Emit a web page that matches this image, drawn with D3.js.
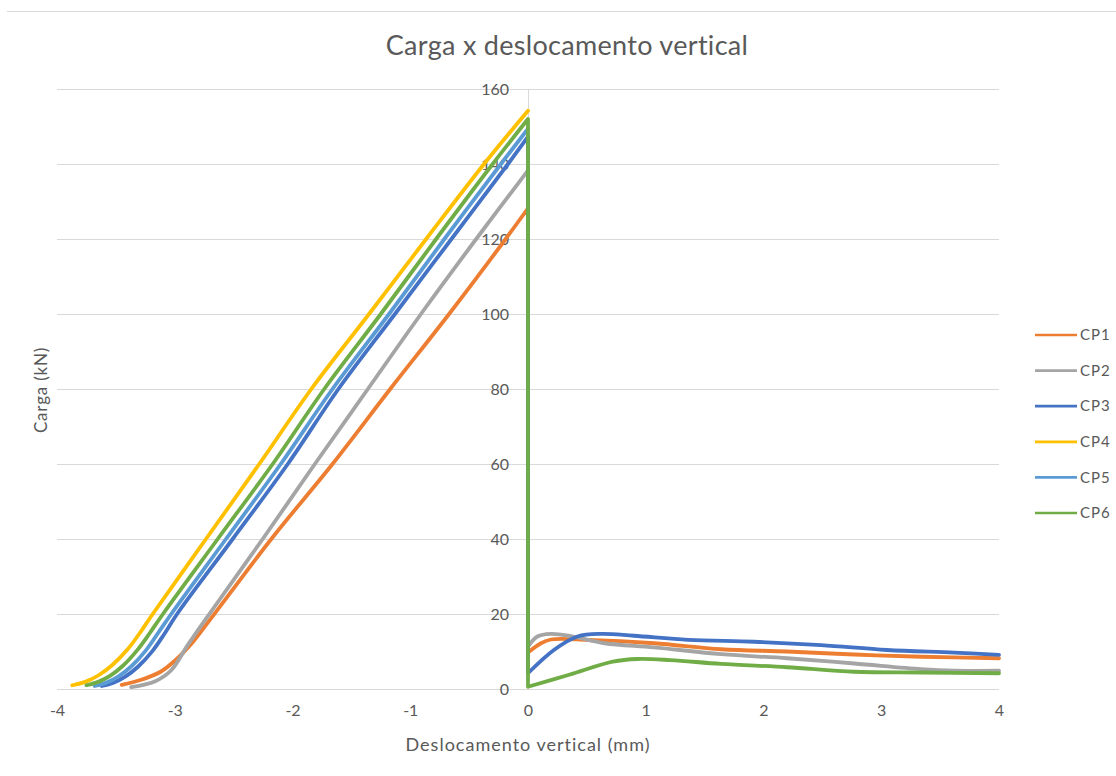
<!DOCTYPE html>
<html>
<head>
<meta charset="utf-8">
<script src="https://cdn.jsdelivr.net/npm/d3@7"></script>
<style>
  html, body { margin: 0; padding: 0; background: #ffffff; }
  svg { display: block; }
  text { font-family: Lato, "Open Sans", "Noto Sans", sans-serif; fill: #595959; }
</style>
</head>
<body>
<svg id="chart" width="1116" height="776"></svg>
<script>
// Series names and colours
const seriesNames = ["CP1", "CP2", "CP3", "CP4", "CP5", "CP6"];
const seriesColors = ["#ed7d31", "#a5a5a5", "#4472c4", "#ffc000", "#5b9bd5", "#70ad47"];

// Loading branch of each specimen: [displacement (mm), load (kN)], ending at the peak
const loadCP1 = [[-3.45, 1.1], [-3.29, 2.4], [-3.12, 4.6], [-2.99, 7.8], [-2.86, 12.0], [-2.70, 18.5], [-2.18, 40], [-1.66, 60], [-1.17, 80], [-0.67, 100], [-0.19, 120], [0, 128.2]];
const loadCP2 = [[-3.37, 0.5], [-3.17, 2], [-3.03, 5], [-2.89, 11.7], [-2.706, 20], [-2.253, 40], [-1.81, 60], [-1.36, 80], [-0.909, 100], [-0.44, 120], [0, 138.3]];
const loadCP3 = [[-3.62, 0.8], [-3.52, 1.7], [-3.42, 3.3], [-3.31, 6], [-3.19, 10.1], [-3.09, 14.6], [-2.98, 20], [-2.508, 40], [-2.04, 60], [-1.61, 80], [-1.13, 100], [-0.65, 120], [-0.17, 140], [0, 147.3]];
const loadCP4 = [[-3.87, 1.0], [-3.76, 1.9], [-3.65, 3.6], [-3.53, 6.4], [-3.40, 10.6], [-3.295, 15], [-3.187, 20], [-2.735, 40], [-2.282, 60], [-1.84, 80], [-1.35, 100], [-0.865, 120], [-0.373, 140], [0, 154.2]];
const loadCP5 = [[-3.68, 0.8], [-3.58, 1.7], [-3.48, 3.3], [-3.37, 6], [-3.25, 10.1], [-3.14, 15], [-3.03, 20], [-2.565, 40], [-2.10, 60], [-1.66, 80], [-1.18, 100], [-0.71, 120], [-0.23, 140], [0, 149.4]];
const loadCP6 = [[-3.75, 1.0], [-3.65, 1.9], [-3.55, 3.5], [-3.44, 6.2], [-3.32, 10.3], [-3.21, 15], [-3.10, 20], [-2.635, 40], [-2.168, 60], [-1.73, 80], [-1.25, 100], [-0.78, 120], [-0.30, 140], [0, 152.0]];

// Post-peak branch (after the drop at zero displacement); empty where not recorded
const postCP1 = [[0, 9.7], [0.11, 12.2], [0.195, 13.2], [0.51, 13.1], [1.07, 12.2], [1.64, 10.6], [2.2, 10.0], [2.77, 9.2], [3.34, 8.6], [4.0, 8.2]];
const postCP2 = [[0, 11.3], [0.08, 14.0], [0.195, 14.7], [0.365, 14.1], [0.65, 12.2], [1.07, 11.1], [1.64, 9.3], [2.2, 8.2], [2.77, 6.8], [3.34, 5.3], [3.62, 4.9], [4.0, 4.9]];
const postCP3 = [[0, 4.2], [0.22, 10.4], [0.42, 14.0], [0.62, 14.7], [0.9, 14.2], [1.36, 13.1], [1.92, 12.6], [2.49, 11.7], [3.05, 10.4], [3.62, 9.7], [4.0, 9.1]];
const postCP4 = [];
const postCP5 = [];
const postCP6 = [[0, 0.6], [0.35, 3.8], [0.72, 7.3], [0.93, 8.0], [1.21, 7.7], [1.64, 6.7], [2.2, 5.8], [2.77, 4.6], [3.34, 4.4], [4.0, 4.2]];

// Axis ticks and titles
const xTicks = [-4, -3, -2, -1, 0, 1, 2, 3, 4];
const yTicks = [0, 20, 40, 60, 80, 100, 120, 140, 160];
const chartTitle = "Carga x deslocamento vertical";
const xTitle = "Deslocamento vertical (mm)";
const yTitle = "Carga (kN)";

const loads = [loadCP1, loadCP2, loadCP3, loadCP4, loadCP5, loadCP6];
const posts = [postCP1, postCP2, postCP3, postCP4, postCP5, postCP6];

const svg = d3.select("#chart");

const plot = { left: 57, right: 999, top: 89, bottom: 689 };
const x = d3.scaleLinear().domain([-4, 4]).range([plot.left, plot.right]);
const y = d3.scaleLinear().domain([0, 160]).range([plot.bottom, plot.top]);

// Outer frame edge
svg.append("line")
  .attr("x1", 7).attr("x2", 1116).attr("y1", 11.5).attr("y2", 11.5)
  .attr("stroke", "#d9d9d9").attr("stroke-width", 1);

// Title
svg.append("text")
  .attr("x", 567).attr("y", 55)
  .attr("text-anchor", "middle")
  .style("font-size", "27px")
  .style("letter-spacing", "0.3px")
  .text(chartTitle);

// Horizontal gridlines
svg.append("g")
  .selectAll("line")
  .data(yTicks)
  .join("line")
  .attr("x1", plot.left).attr("x2", plot.right)
  .attr("y1", d => Math.round(y(d)) + 0.5).attr("y2", d => Math.round(y(d)) + 0.5)
  .attr("stroke", "#d9d9d9").attr("stroke-width", 1);

// Vertical axis line at zero displacement
svg.append("line")
  .attr("x1", Math.round(x(0)) + 0.5).attr("x2", Math.round(x(0)) + 0.5)
  .attr("y1", plot.top).attr("y2", plot.bottom)
  .attr("stroke", "#d9d9d9").attr("stroke-width", 1);

// X axis labels
const xAxis = d3.axisBottom(x).tickValues(xTicks).tickSize(0).tickPadding(16)
  .tickFormat(d => d < 0 ? "-" + Math.abs(d) : String(d));
const gx = svg.append("g").attr("transform", `translate(0,${plot.bottom})`).call(xAxis);
gx.select(".domain").remove();
gx.selectAll("text").style("font-size", "16px").style("font-family", null).attr("fill", null);

// Y axis labels placed at zero displacement
const yAxis = d3.axisLeft(y).tickValues(yTicks).tickSize(0).tickPadding(19);
const gy = svg.append("g").attr("transform", `translate(${x(0)},0)`).call(yAxis);
gy.select(".domain").remove();
gy.selectAll("text").style("font-size", "16px").style("font-family", null).attr("fill", null);

// Axis titles
svg.append("text")
  .attr("x", x(0)).attr("y", 751)
  .attr("text-anchor", "middle")
  .style("font-size", "18px")
  .style("letter-spacing", "1px")
  .text(xTitle);

svg.append("text")
  .attr("transform", "translate(47,390) rotate(-90)")
  .attr("text-anchor", "middle")
  .style("font-size", "17px")
  .style("letter-spacing", "0.8px")
  .text(yTitle);

// Curves: loading branch, vertical drop at zero, then post-peak branch
const lineGen = d3.line()
  .x(d => x(d[0]))
  .y(d => y(d[1]))
  .curve(d3.curveCatmullRom.alpha(0.5));

const series = seriesNames.map((name, i) => ({ name, color: seriesColors[i], load: loads[i], post: posts[i] }));

svg.append("g")
  .selectAll("path")
  .data(series)
  .join("path")
  .attr("d", s => {
    let p = lineGen(s.load);
    if (s.post.length) p += "L" + lineGen(s.post).slice(1);
    return p;
  })
  .attr("fill", "none")
  .attr("stroke", s => s.color)
  .attr("stroke-width", 3.8)
  .attr("stroke-linecap", "round")
  .attr("stroke-linejoin", "round");

// Legend
const legend = svg.append("g").attr("transform", "translate(1035,335)");
const items = legend.selectAll("g")
  .data(series)
  .join("g")
  .attr("transform", (d, i) => `translate(0,${i * 35.6})`);
items.append("line")
  .attr("x1", 0).attr("x2", 42).attr("y1", 0).attr("y2", 0)
  .attr("stroke", d => d.color).attr("stroke-width", 2.7);
items.append("text")
  .attr("x", 45).attr("y", 0).attr("dy", "0.35em")
  .style("font-size", "15px")
  .style("letter-spacing", "1px")
  .text(d => d.name);
</script>
</body>
</html>
